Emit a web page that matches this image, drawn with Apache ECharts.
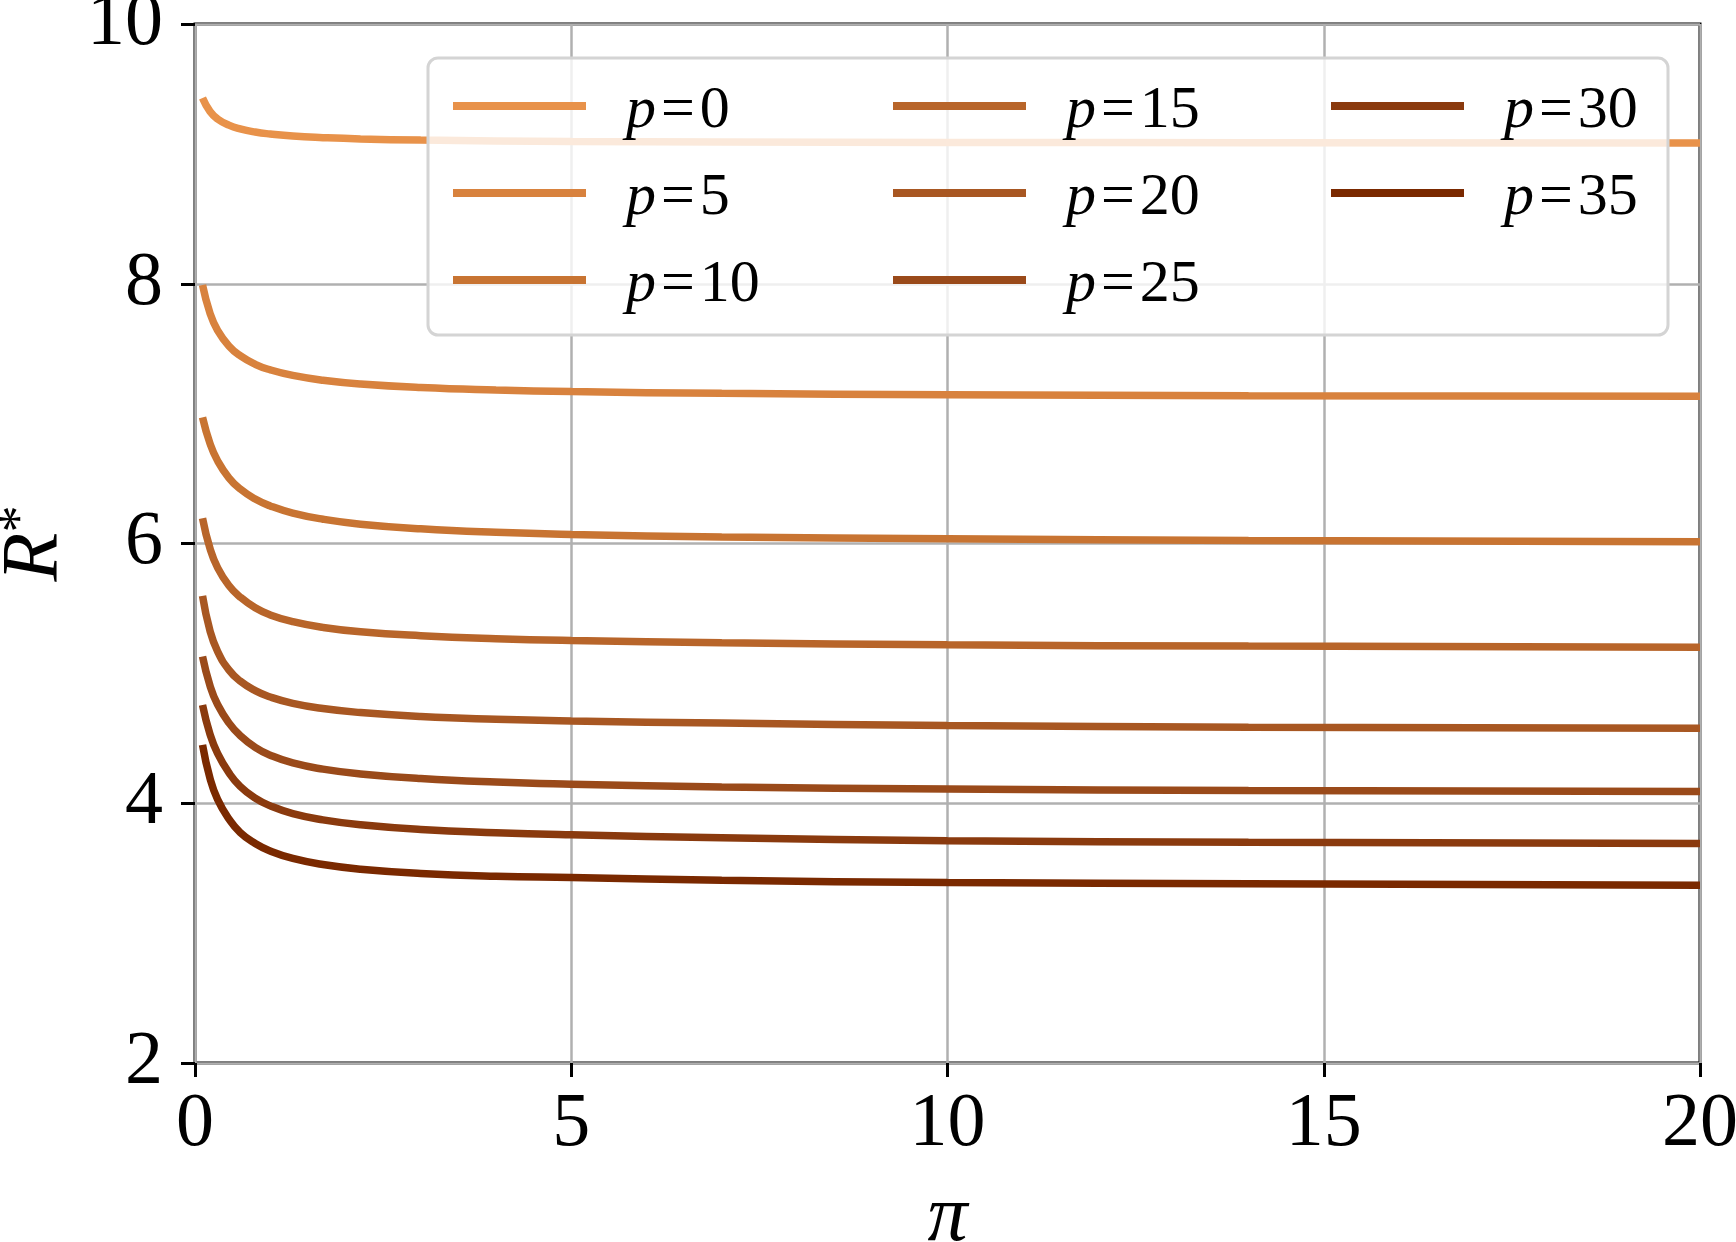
<!DOCTYPE html>
<html>
<head>
<meta charset="utf-8">
<script src="https://cdn.jsdelivr.net/npm/echarts@6/dist/echarts.min.js"></script>
<style>
  html, body { margin: 0; padding: 0; background: #fff; }
  #main { width: 1736px; height: 1242px; }
</style>
</head>
<body>
<div id="main"></div>
<script>
// values
var piValues = [0.1, 0.2, 0.3, 0.45, 0.6, 0.8, 1, 1.3, 1.7, 2.2, 3, 4, 5, 7, 10, 14, 20];
var r0  = [9.430, 9.326, 9.269, 9.221, 9.192, 9.168, 9.153, 9.137, 9.125, 9.115, 9.106, 9.100, 9.096, 9.092, 9.088, 9.086, 9.084];
var r5  = [7.990, 7.772, 7.641, 7.521, 7.446, 7.380, 7.337, 7.294, 7.257, 7.228, 7.201, 7.182, 7.170, 7.156, 7.146, 7.138, 7.133];
var r10 = [6.971, 6.769, 6.637, 6.506, 6.420, 6.342, 6.289, 6.234, 6.187, 6.149, 6.113, 6.086, 6.070, 6.051, 6.036, 6.024, 6.014];
var r15 = [6.195, 5.960, 5.814, 5.676, 5.588, 5.505, 5.450, 5.398, 5.354, 5.320, 5.290, 5.267, 5.253, 5.236, 5.220, 5.210, 5.202];
var r20 = [5.597, 5.326, 5.169, 5.027, 4.941, 4.867, 4.818, 4.769, 4.729, 4.698, 4.668, 4.647, 4.634, 4.617, 4.598, 4.586, 4.578];
var r25 = [5.130, 4.904, 4.760, 4.619, 4.522, 4.430, 4.370, 4.310, 4.263, 4.226, 4.190, 4.163, 4.147, 4.125, 4.110, 4.098, 4.090];
var r30 = [4.757, 4.531, 4.384, 4.235, 4.130, 4.040, 3.980, 3.920, 3.872, 3.834, 3.798, 3.773, 3.757, 3.735, 3.712, 3.699, 3.690];
var r35 = [4.450, 4.190, 4.030, 3.880, 3.775, 3.690, 3.632, 3.575, 3.528, 3.492, 3.460, 3.438, 3.428, 3.407, 3.390, 3.380, 3.368];

var seriesNames = ['p=0', 'p=5', 'p=10', 'p=15', 'p=20', 'p=25', 'p=30', 'p=35'];
var seriesValues = [r0, r5, r10, r15, r20, r25, r30, r35];
var colors = ['#E8924A', '#D8823E', '#C87432', '#B8652A', '#A85722', '#9A4A1A', '#8A3A0E', '#7A2900'];

var serif = 'Liberation Serif';

var legendRich = {
    i: { fontFamily: serif, fontStyle: 'italic', fontSize: 60, lineHeight: 60, color: '#000' },
    e: { fontFamily: serif, fontSize: 60, lineHeight: 60, color: '#000', padding: [0, 5, 0, 5] },
    n: { fontFamily: serif, fontSize: 60, lineHeight: 60, color: '#000' }
};

// one legend per column, drawn on the top layer above the translucent box
function legendCol(left, names) {
    return {
        orient: 'vertical',
        zlevel: 1,
        z: 5,
        left: left,
        top: 66,
        itemWidth: 133,
        itemHeight: 8,
        itemGap: 17,
        icon: 'rect',
        selectedMode: false,
        data: names,
        formatter: function (name) {
            return '{i|p}{e|=}{n|' + name.split('=')[1] + '}';
        },
        textStyle: { padding: [10, 0, 0, 35], lineHeight: 60, rich: legendRich }
    };
}

var series = seriesNames.map(function (name, k) {
    return {
        name: name,
        type: 'line',
        showSymbol: false,
        smooth: 0.5,
        color: colors[k],
        lineStyle: { width: 7.5, color: colors[k] },
        data: piValues.map(function (x, i) { return [x, seriesValues[k][i]]; })
    };
});

var myChart = echarts.init(document.getElementById('main'));
myChart.setOption({
    animation: false,
    backgroundColor: '#fff',
    grid: {
        left: 195, right: 36, top: 24, bottom: 179,
        outerBoundsMode: 'none',
        containLabel: false,
        show: true, borderColor: '#000', borderWidth: 3
    },
    xAxis: {
        type: 'value',
        min: 0, max: 20, interval: 5,
        name: 'π',
        nameLocation: 'middle',
        nameGap: 116,
        nameTextStyle: { fontFamily: serif, fontStyle: 'italic', fontSize: 80, color: '#000' },
        axisLine: { show: false },
        axisTick: { show: true, length: 14, lineStyle: { color: '#000', width: 3 } },
        axisLabel: { margin: 24, fontFamily: serif, fontSize: 76, color: '#000' },
        splitLine: { show: true, lineStyle: { color: '#b0b0b0', width: 2.5 } }
    },
    yAxis: {
        type: 'value',
        min: 2, max: 10, interval: 2,
        name: '{r|R}{s|*}',
        nameLocation: 'middle',
        nameGap: 118,
        nameTextStyle: {
            rich: {
                r: { fontFamily: serif, fontStyle: 'italic', fontSize: 80, color: '#000' },
                s: { fontFamily: serif, fontSize: 54, color: '#000', padding: [0, 0, 28, 0] }
            }
        },
        axisLine: { show: false },
        axisTick: { show: true, length: 14, lineStyle: { color: '#000', width: 3 } },
        axisLabel: { margin: 32, padding: [10, 0, 0, 0], fontFamily: serif, fontSize: 76, color: '#000' },
        splitLine: { show: true, lineStyle: { color: '#b0b0b0', width: 2.5 } }
    },
    legend: [
        legendCol(448, seriesNames.slice(0, 3)),
        legendCol(888, seriesNames.slice(3, 6)),
        legendCol(1326, seriesNames.slice(6, 8))
    ],
    graphic: [{
        type: 'rect',
        zlevel: 1,
        z: 0,
        shape: { x: 428, y: 58, width: 1240, height: 277, r: 10 },
        style: { fill: 'rgba(255,255,255,0.8)', stroke: '#d4d4d4', lineWidth: 3 }
    }],
    series: series
});
</script>
</body>
</html>
